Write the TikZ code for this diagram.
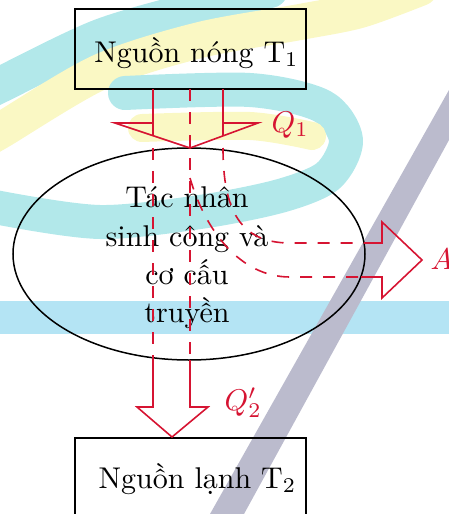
\documentclass[tikz,border=0pt]{standalone}
\usetikzlibrary{shapes.geometric}
\definecolor{arrowred}{RGB}{214,20,50}
\definecolor{wmcyan}{RGB}{178,232,234}
\definecolor{wmyellow}{RGB}{250,248,196}
\definecolor{wmblue}{RGB}{180,228,244}
\definecolor{wmgrey}{RGB}{187,187,205}
\begin{document}
\begin{tikzpicture}[x=1pt,y=-1pt,
  box/.style={draw,line width=1.5pt,minimum width=231pt,minimum height=80pt,inner sep=0pt},
  redline/.style={draw=arrowred,line width=1.6pt},
  reddash/.style={redline,dash pattern=on 12pt off 11pt},
  bigtext/.style={scale=3,font=\fontsize{10}{12.77}\selectfont,inner sep=0pt},
  redlabel/.style={scale=3,text=arrowred,font=\fontsize{10}{12}\selectfont,inner sep=0pt},
  wmband/.style={line width=#1,line cap=round,line join=round}]
\useasboundingbox (0,0) rectangle (449,514);
% background watermark
\begin{scope}
\clip (0,0) rectangle (449,514);
\fill[wmblue] (0,301) rectangle (449,334);
\draw[wmband=36pt,wmcyan] plot[smooth] coordinates {(-20,95) (0,85) (100,37) (200,8) (270,-10)};
\draw[wmband=36pt,wmyellow] plot[smooth] coordinates {(-20,142) (0,131) (100,72) (200,40) (300,22) (360,10) (420,-12)};
\draw[wmband=34pt,wmcyan] plot[smooth] coordinates {(125,93) (250,90) (322,106) (346,140) (328,176) (280,196) (200,212) (100,222) (0,208) (-20,200)};
\draw[wmband=28pt,wmyellow] plot[smooth] coordinates {(142,128) (250,126) (312,136)};
\fill[wmgrey] (449,90) -- (210,514) -- (244,514) -- (449,140) -- cycle;
\end{scope}
% boxes and agent
\node[box] (hot) at (190.5,49) {};
\node[bigtext,anchor=base] (hottext) at (196.5,62) {Nguồn nóng T$_1$};
\node[box] (cold) at (190.5,478) {};
\node[bigtext,anchor=base] (coldtext) at (197.5,488) {Nguồn lạnh T$_2$};
\node[draw,ellipse,line width=1.5pt,minimum width=352pt,minimum height=212pt,inner sep=0pt] (agent) at (189,254) {};
\node[bigtext,align=center] (agenttext) at (187,258) {Tác nhân\\sinh công và\\cơ cấu\\truyền};
% Q1 arrow
\draw[redline] (153,89) -- (153,135.7);
\draw[redline] (223,89) -- (223,135.9);
\draw[redline] (153,123) -- (115,123) -- (190,148) -- (258,123) -- (223,123);
\draw[reddash] (190,89) -- (190,360);
\draw[reddash] (153,148) -- (153,358);
% A arrow
\draw[reddash] (223,148) .. controls (223,210) and (240,243) .. (290,243) -- (364,243);
\draw[reddash] (190,178) .. controls (205,230) and (240,277) .. (290,277) -- (361,277);
\draw[redline] (364,243) -- (382,243) -- (382,222) -- (422,260) -- (382,298) -- (382,277) -- (361,277);
% Q2' arrow
\draw[redline] (153,358) -- (153,407) -- (137,407) -- (172,437) -- (208,407) -- (190,407) -- (190,360);
% labels
\node[redlabel,anchor=base west] (q1) at (271,132) {$Q_1$};
\node[redlabel,anchor=base west] (q2) at (224,410) {$Q'_2$};
\node[redlabel,anchor=base west] (work) at (430,269) {$A$};
\end{tikzpicture}
\end{document}
